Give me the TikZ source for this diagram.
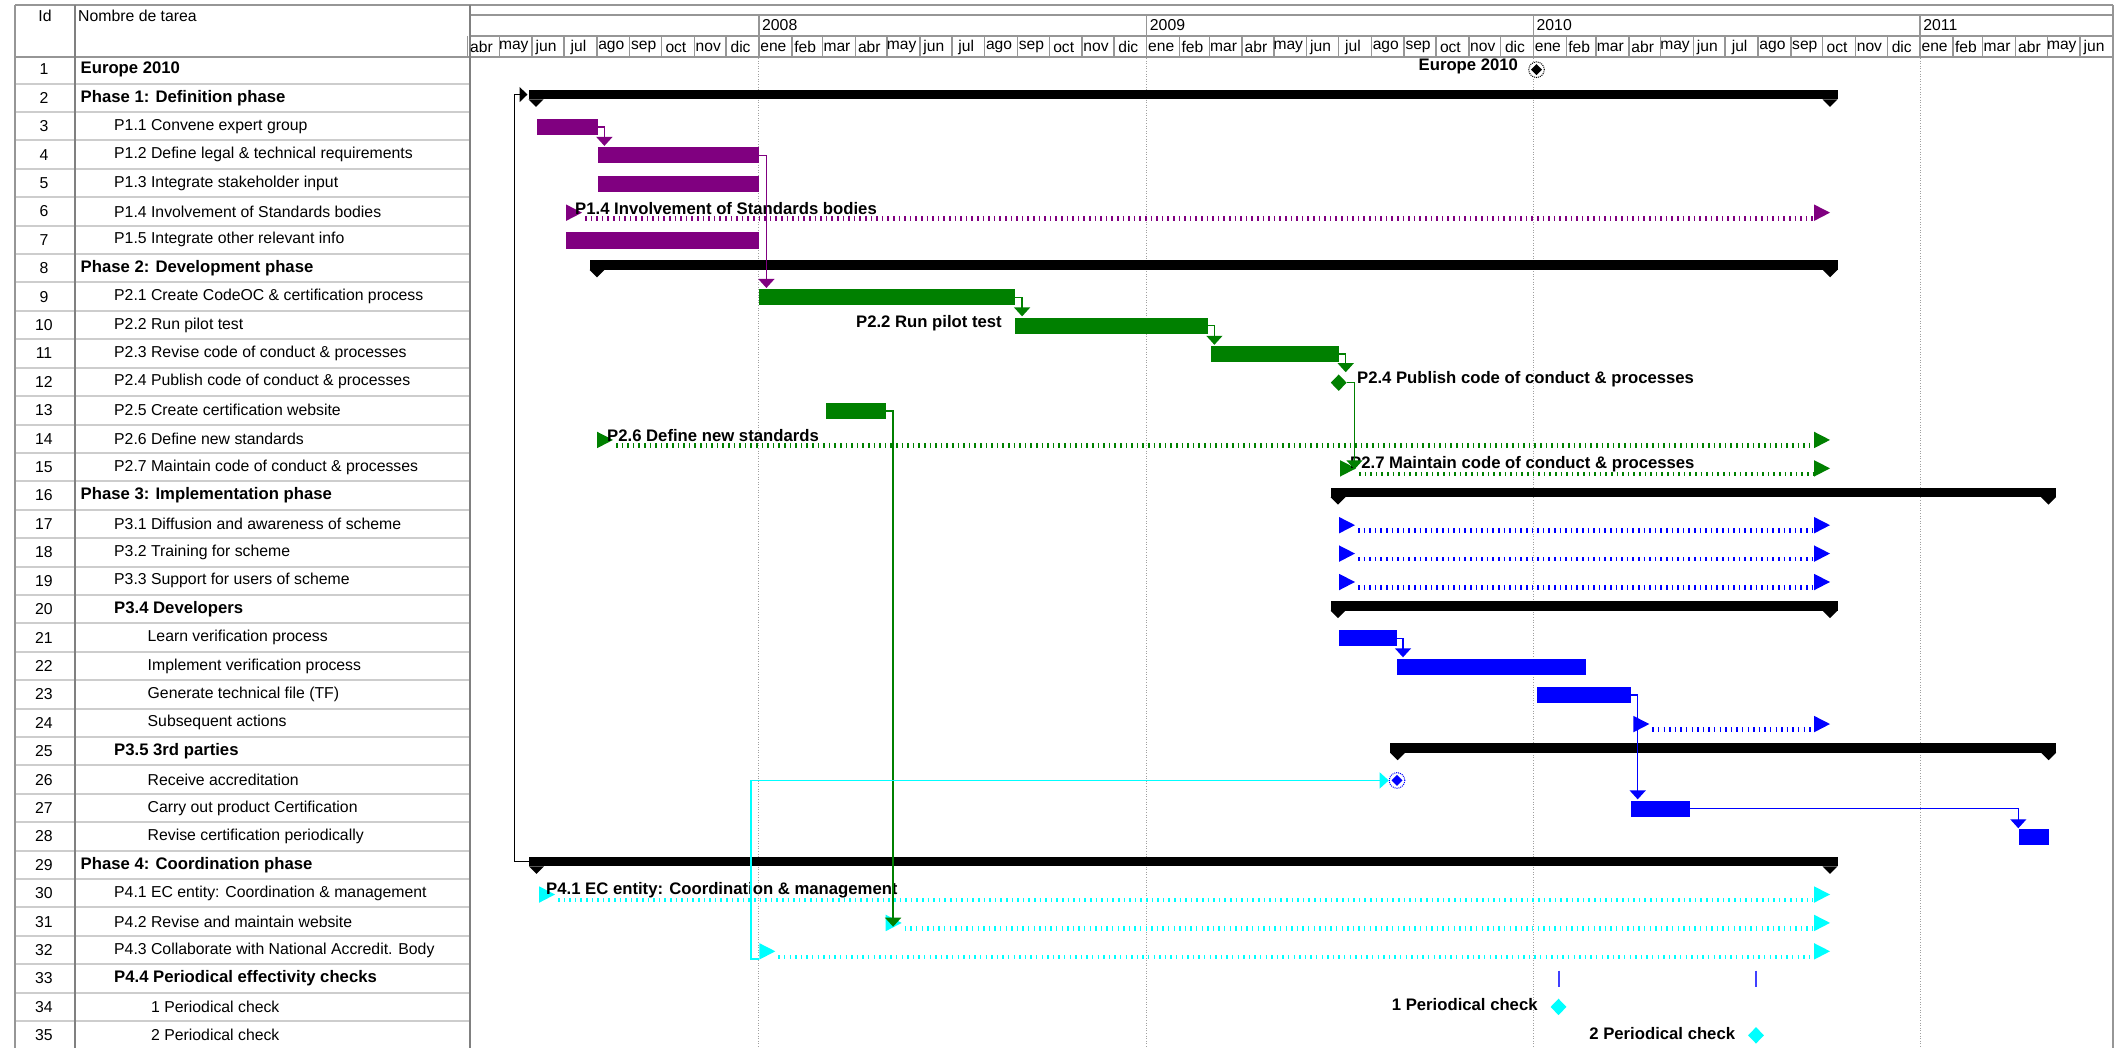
\documentclass[tikz,border=0pt]{standalone}
\usepackage{fontspec}
\setmainfont{Liberation Sans}
\usetikzlibrary{arrows.meta,shapes.geometric,calc}

\definecolor{ppurple}{RGB}{128,0,128}
\definecolor{pgreen}{RGB}{0,128,0}
\definecolor{pblue}{RGB}{0,0,255}
\definecolor{pcyan}{RGB}{0,255,255}
\definecolor{rule}{RGB}{150,150,150}
\definecolor{rowrule}{RGB}{205,205,205}
\definecolor{gridgray}{RGB}{160,160,160}

\newcommand\tabfont{\fontsize{15.8pt}{18pt}\selectfont}
\newcommand\tabbold{\fontsize{16.7pt}{19pt}\selectfont\bfseries}
\newcommand\monthfont{\fontsize{15.6pt}{18pt}\selectfont}
\newcommand\lblfont{\fontsize{16.7pt}{19pt}\selectfont\bfseries}

% task bar: name, colour, row, start x, end x
\newcommand\taskbar[5]{%
  \node[bar, fill=#2, minimum width={(#5-#4)*1pt}] (#1) at (#4,{ry(#3)+0.65}) {};}
% summary bar: name, row, start x, end x
\newcommand\sumbar[4]{%
  \node[rectangle, fill=black, inner sep=0, anchor=west, minimum height=9.5pt,
        minimum width={(#4-#3+15)*1pt}] (#1) at ({#3-7.5},{ry(#2)-3.25}) {};
  \fill ({#3-7.5},{ry(#2)+1.5}) -- ({#3+7.5},{ry(#2)+1.5}) -- (#3,{ry(#2)+9}) -- cycle;
  \fill ({#4-7.5},{ry(#2)+1.5}) -- ({#4+7.5},{ry(#2)+1.5}) -- (#4,{ry(#2)+9}) -- cycle;}
% recurring task: name, colour, row, start x
\newcommand\recurtask[4]{%
  \fill[#2] (#4,{ry(#3)-7}) -- (#4,{ry(#3)+9.5}) -- ({#4+16},{ry(#3)+1.2}) -- cycle;
  \coordinate (#1) at (#4,{ry(#3)+1.2});
  \draw[recur,#2] ({#4+19},{ry(#3)+6.8}) -- (1813,{ry(#3)+6.8});
  \fill[#2] (1814,{ry(#3)-7}) -- (1814,{ry(#3)+9.5}) -- (1830,{ry(#3)+1.2}) -- cycle;}
% finish-to-start link: colour, source, target, horizontal run
\newcommand\fslink[4]{%
  \draw[link,#1] (#2.east) -| ($(#2.east |- #3.north)+(#4,-1)$);}

\begin{document}
\begin{tikzpicture}[x=1pt,y=-1pt,
  declare function={ry(\i)=69.4+(\i-1)*28.41; dx(\d)=467.6+1.0595*\d;},
  bar/.style={rectangle, inner sep=0, minimum height=16.3pt, anchor=west},
  lbl/.style={font=\lblfont, inner sep=0},
  link/.style={line width=1.4pt, -{Triangle[width=16pt,length=9pt]}},
  recur/.style={line width=4.6pt, dash pattern=on 1.5pt off 4.1pt},
  frame/.style={draw=rule, line width=2pt},
  yeargrid/.style={draw=gridgray, line width=1pt, dash pattern=on 1pt off 1.6pt}]

\useasboundingbox (0,0) rectangle (2123,1048);
\fill[white] (0,0) rectangle (2123,1048);

% ---------- table ----------
\foreach \i in {1,...,35}
  \draw[rowrule, line width=2pt] (15,{ry(\i)+14.2}) -- (470,{ry(\i)+14.2});
\draw[frame] (15,5) -- (2113,5);
\draw[frame] (15,57) -- (2113,57);
\draw[frame] (470,15.5) -- (2113,15.5);
\draw[frame, line width=1.5pt] (470,36) -- (2113,36);
\draw[frame] (15,5) -- (15,1048);
\draw[draw=gray, line width=2pt] (75,5) -- (75,1048);
\draw[draw=gray, line width=2pt] (470,5) -- (470,1048);
\draw[frame] (2113,5) -- (2113,1048);

\node[font=\tabfont, inner sep=0] (hid) at (45,16) {Id};
\node[font=\tabfont, inner sep=0, anchor=west] (hname) at (78,16) {Nombre de tarea};

\foreach \i/\x/\f/\t in {
  1/80.5/\tabbold/{Europe 2010},
  2/80.5/\tabbold/{Phase 1: Definition phase},
  3/114/\tabfont/{P1.1 Convene expert group},
  4/114/\tabfont/{P1.2 Define legal \& technical requirements},
  5/114/\tabfont/{P1.3 Integrate stakeholder input},
  6/114/\tabfont/{P1.4 Involvement of Standards bodies},
  7/114/\tabfont/{P1.5 Integrate other relevant info},
  8/80.5/\tabbold/{Phase 2: Development phase},
  9/114/\tabfont/{P2.1 Create CodeOC \& certification process},
  10/114/\tabfont/{P2.2 Run pilot test},
  11/114/\tabfont/{P2.3 Revise code of conduct \& processes},
  12/114/\tabfont/{P2.4 Publish code of conduct \& processes},
  13/114/\tabfont/{P2.5 Create certification website},
  14/114/\tabfont/{P2.6 Define new standards},
  15/114/\tabfont/{P2.7 Maintain code of conduct \& processes},
  16/80.5/\tabbold/{Phase 3: Implementation phase},
  17/114/\tabfont/{P3.1 Diffusion and awareness of scheme},
  18/114/\tabfont/{P3.2 Training for scheme},
  19/114/\tabfont/{P3.3 Support for users of scheme},
  20/114/\tabbold/{P3.4 Developers},
  21/147.5/\tabfont/{Learn verification process},
  22/147.5/\tabfont/{Implement verification process},
  23/147.5/\tabfont/{Generate technical file (TF)},
  24/147.5/\tabfont/{Subsequent actions},
  25/114/\tabbold/{P3.5 3rd parties},
  26/147.5/\tabfont/{Receive accreditation},
  27/147.5/\tabfont/{Carry out product Certification},
  28/147.5/\tabfont/{Revise certification periodically},
  29/80.5/\tabbold/{Phase 4: Coordination phase},
  30/114/\tabfont/{P4.1 EC entity: Coordination \& management},
  31/114/\tabfont/{P4.2 Revise and maintain website},
  32/114/\tabfont/{P4.3 Collaborate with National Accredit. Body},
  33/114/\tabbold/{P4.4 Periodical effectivity checks},
  34/151/\tabfont/{1 Periodical check},
  35/151/\tabfont/{2 Periodical check}}{
  \node[font=\tabfont, inner sep=0] (id\i) at (44,{ry(\i)}) {\i};
  \node[font=\f, inner sep=0, anchor=west] (name\i) at (\x,{ry(\i)}) {\t};
}

% ---------- timescale ----------
\foreach \a/\b/\m in {0/30/abr,30/61/may,61/91/jun,91/122/jul,122/153/ago,153/183/sep,
  183/214/oct,214/244/nov,244/275/dic,275/306/ene,306/335/feb,335/366/mar,366/396/abr,
  396/427/may,427/457/jun,457/488/jul,488/519/ago,519/549/sep,549/580/oct,580/610/nov,
  610/641/dic,641/672/ene,672/700/feb,700/731/mar,731/761/abr,761/792/may,792/822/jun,
  822/853/jul,853/884/ago,884/914/sep,914/945/oct,945/975/nov,975/1006/dic,1006/1037/ene,
  1037/1065/feb,1065/1096/mar,1096/1126/abr,1126/1157/may,1157/1187/jun,1187/1218/jul,
  1218/1249/ago,1249/1279/sep,1279/1310/oct,1310/1340/nov,1340/1371/dic,1371/1402/ene,
  1402/1430/feb,1430/1461/mar,1461/1491/abr,1491/1522/may,1522/1552/jun}{
  \draw[rule, line width=1.5pt] ({dx(\a)},36) -- ({dx(\a)},57);
  \node[font=\monthfont, inner sep=0] at ({dx((\a+\b)/2)-2},47.3) {\m};
}
\foreach \a/\y in {275/2008,641/2009,1006/2010,1371/2011}{
  \draw[rule, line width=1.5pt] ({dx(\a)},15.5) -- ({dx(\a)},36);
  \node[font=\tabfont, inner sep=0, anchor=west] at ({dx(\a)+3},25.5) {\y};
  \draw[yeargrid] ({dx(\a)},58) -- ({dx(\a)},1048);
}

% ---------- milestone: Europe 2010 ----------
\node[circle, draw=black, densely dotted, line width=1pt, minimum size=15.6pt, inner sep=0, fill=white] (m1) at (1536.5,69.7) {};
\fill (m1.center) +(0,-5.5) -- +(5.5,0) -- +(0,5.5) -- +(-5.5,0) -- cycle;
\node[lbl, anchor=east] at ($(m1.west)+(-10,-3)$) {Europe 2010};

% ---------- Phase 1 ----------
\sumbar{s2}{2}{536}{1830}
\taskbar{t3}{ppurple}{3}{536.7}{597.3}
\taskbar{t4}{ppurple}{4}{597.3}{759}
\taskbar{t5}{ppurple}{5}{597.3}{759}
\recurtask{r6}{ppurple}{6}{566}
\node[lbl, anchor=west] at ($(r6)+(9,-4.2)$) {P1.4 Involvement of Standards bodies};
\taskbar{t7}{ppurple}{7}{566}{759}
\fslink{ppurple}{t3}{t4}{6.7}

% ---------- Phase 2 ----------
\sumbar{s8}{8}{597}{1830}
\taskbar{t9}{pgreen}{9}{759}{1014.3}
\fslink{ppurple}{t4}{t9}{7}
\taskbar{t10}{pgreen}{10}{1015}{1207.3}
\node[lbl, anchor=east] at ($(t10.west)+(-13,-3)$) {P2.2 Run pilot test};
\taskbar{t11}{pgreen}{11}{1210.7}{1338.7}
\node[diamond, fill=pgreen, inner sep=0, minimum width=16pt, minimum height=16.6pt] (d12) at (1338.7,{ry(12)+0.8}) {};
\node[lbl, anchor=west] at ($(d12.east)+(10,-3.5)$) {P2.4 Publish code of conduct \& processes};
\taskbar{t13}{pgreen}{13}{825.7}{886}
\recurtask{r14}{pgreen}{14}{597}
\node[lbl, anchor=west] at ($(r14)+(10,-4.2)$) {P2.6 Define new standards};
\recurtask{r15}{pgreen}{15}{1340}
\node[lbl, anchor=west] at ($(r15)+(10,-4.2)$) {P2.7 Maintain code of conduct \& processes};
\fslink{pgreen}{t9}{t10}{7.4}
\fslink{pgreen}{t10}{t11}{6.7}
\draw[link,pgreen] (t11.east) -| ($(t11.east |- d12.north)+(6.6,-2)$);
\draw[link,pgreen] (d12.east) -| ($(d12.east |- r15)+(7.6,1)$);

% ---------- Phase 3 ----------
\sumbar{s16}{16}{1338}{2048.5}
\recurtask{r17}{pblue}{17}{1339}
\recurtask{r18}{pblue}{18}{1339}
\recurtask{r19}{pblue}{19}{1339}
\sumbar{s20}{20}{1338}{1830}
\taskbar{t21}{pblue}{21}{1339}{1397}
\taskbar{t22}{pblue}{22}{1397}{1586}
\taskbar{t23}{pblue}{23}{1537}{1630.7}
\recurtask{r24}{pblue}{24}{1633.3}
\sumbar{s25}{25}{1397.5}{2048.5}
\node[circle, draw=pblue, densely dotted, line width=1pt, minimum size=15.6pt, inner sep=0, fill=white] (m26) at (1397,{ry(26)+0.8}) {};
\fill[pblue] (m26.center) +(0,-5.5) -- +(5.5,0) -- +(0,5.5) -- +(-5.5,0) -- cycle;
\taskbar{t27}{pblue}{27}{1630.7}{1690}
\taskbar{t28}{pblue}{28}{2018.3}{2049}
\fslink{pblue}{t21}{t22}{5.6}
\fslink{pblue}{t23}{t27}{6.6}
\draw[link,pblue] (t27.east) -| ($(t28.north west)+(0,-0.5)$);

% ---------- Phase 4 ----------
\sumbar{s29}{29}{536.5}{1830}
\recurtask{r30}{pcyan}{30}{539}
\node[lbl, anchor=west] at ($(r30)+(7,-4.2)$) {P4.1 EC entity: Coordination \& management};
\recurtask{r31}{pcyan}{31}{885.7}
\recurtask{r32}{pcyan}{32}{759.3}
\draw[link,pgreen] (t13.east) -| ($(t13.east |- r31)+(6.7,3.8)$);
\draw[link,pcyan] ($(r32)+(0,7.8)$) -- ++(-8.3,0) |- (m26.west);
\draw[line width=1.4pt, -{Triangle[width=15pt,length=8pt]}] (s29.west) -- ++(-14.7,0) |- ($(s2.west)+(-1,0)$);

% periodical checks
\draw[pblue!75, line width=1.3pt] (1559,{ry(33)-8}) -- (1559,{ry(33)+8});
\draw[pblue!75, line width=1.3pt] (1756,{ry(33)-8}) -- (1756,{ry(33)+8});
\node[diamond, fill=pcyan, inner sep=0, minimum width=16pt, minimum height=16.6pt] (d34) at (1558.5,{ry(34)}) {};
\node[lbl, anchor=east] at ($(d34.west)+(-12.5,-2)$) {1 Periodical check};
\node[diamond, fill=pcyan, inner sep=0, minimum width=16pt, minimum height=16.6pt] (d35) at (1756,{ry(35)}) {};
\node[lbl, anchor=east] at ($(d35.west)+(-12.5,-2)$) {2 Periodical check};

\end{tikzpicture}
\end{document}
